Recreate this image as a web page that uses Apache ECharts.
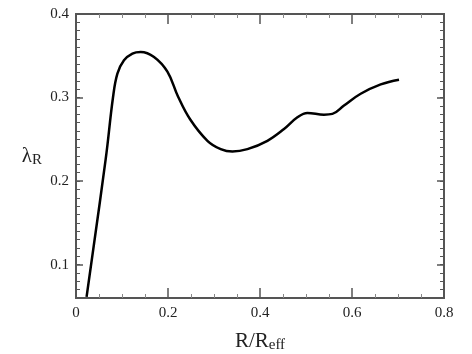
<!DOCTYPE html>
<html>
<head>
    <meta charset="utf-8">
    <title>lambda_R profile</title>
    <script src="https://cdn.jsdelivr.net/npm/echarts@6/dist/echarts.min.js"></script>
    <style>
        body { margin: 0; background: #fff; }
    </style>
</head>
<body>
    <div id="main" style="width: 472px;height:354px;"></div>
    <script type="text/javascript">
// values
var rr = [0.023, 0.0646, 0.0804, 0.090, 0.1043, 0.1226, 0.1407, 0.1696, 0.1987, 0.2220,
          0.2480, 0.2857, 0.3146, 0.340, 0.3726, 0.4161, 0.4522, 0.4813, 0.503,
          0.5391, 0.5574, 0.5826, 0.6189, 0.6624, 0.7022];
var lambdaR = [0.0614, 0.2265, 0.300, 0.3286, 0.3446, 0.3527, 0.3546, 0.3486, 0.3310, 0.3010,
               0.2740, 0.2482, 0.2382, 0.2353, 0.2382, 0.2482, 0.2623, 0.2763, 0.2816,
               0.2795, 0.2804, 0.2904, 0.3045, 0.3157, 0.3213];
var yMajor = [0.1, 0.2, 0.3, 0.4];

var myChart = echarts.init(document.getElementById('main'));

var serif = '"Liberation Serif", "DejaVu Serif", serif';
var frame = { show: true, onZero: false, lineStyle: { color: '#555', width: 2 } };

// y axes: minor ticks every 0.01, major ticks drawn by an overlaid axis
function yAx(pos, major) {
    var a = {
        type: 'value', position: pos, min: 0.06, max: 0.4,
        axisLine: frame, splitLine: { show: false },
        axisTick: { show: true, inside: true, length: major ? 7 : 4, lineStyle: { color: '#555', width: major ? 1.5 : 1 } },
        axisLabel: { show: false }
    };
    if (major) {
        a.axisTick.customValues = yMajor;
        if (pos === 'left') {
            a.axisLabel = {
                show: true, customValues: yMajor, margin: 7,
                fontFamily: serif, fontSize: 15, color: '#222',
                formatter: function (v) { return v.toFixed(1); }
            };
            a.name = '{a|λ}{b|R}';
            a.nameLocation = 'middle';
            a.nameRotate = 0;
            a.nameGap = 34;
            a.nameTextStyle = {
                align: 'right',
                rich: {
                    a: { fontFamily: serif, fontSize: 21, color: '#222' },
                    b: { fontFamily: serif, fontSize: 15, color: '#222', padding: [8, 0, 0, 0] }
                }
            };
        }
    } else {
        a.interval = 0.01;
    }
    return a;
}

function xAx(pos) {
    var a = {
        type: 'value', position: pos, min: 0, max: 0.8, interval: 0.2,
        axisLine: frame, splitLine: { show: false },
        axisTick: { show: true, inside: true, length: 10, lineStyle: { color: '#555', width: 1.5 } },
        minorTick: { show: true, splitNumber: 4, length: 4, lineStyle: { color: '#888' } },
        axisLabel: { show: false }
    };
    if (pos === 'bottom') {
        a.axisLabel = {
            show: true, margin: 8, fontFamily: serif, fontSize: 15, color: '#222',
            formatter: function (v) { return v === 0 ? '0' : v.toFixed(1); }
        };
        a.name = '{a|R/R}{b|eff}';
        a.nameLocation = 'middle';
        a.nameGap = 32;
        a.nameTextStyle = {
            rich: {
                a: { fontFamily: serif, fontSize: 21, color: '#222' },
                b: { fontFamily: serif, fontSize: 15, color: '#222', padding: [8, 0, 0, 0] }
            }
        };
    }
    return a;
}

var pts = rr.map(function (x, i) { return [x, lambdaR[i]]; });

var option = {
    animation: false,
    grid: { left: 76, right: 28, top: 14, bottom: 56, outerBoundsMode: 'none', containLabel: false },
    xAxis: [xAx('bottom'), xAx('top')],
    yAxis: [yAx('left', false), yAx('left', true), yAx('right', false), yAx('right', true)],
    series: [{
        type: 'line',
        data: pts,
        smooth: 0.4,
        showSymbol: false,
        lineStyle: { color: '#000', width: 2.5 }
    }]
};
myChart.setOption(option);
    </script>
</body>
</html>
